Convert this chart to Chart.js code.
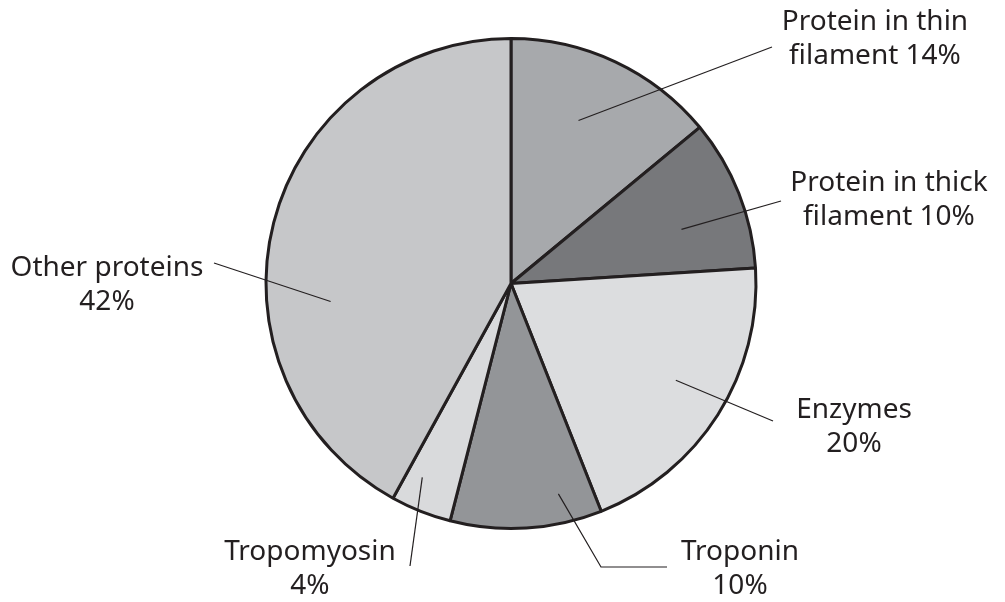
<!DOCTYPE html>
<html>
<head>
<meta charset="utf-8">
<script src="https://cdn.jsdelivr.net/npm/chart.js@4/dist/chart.umd.min.js"></script>
<style>
  html, body { margin: 0; padding: 0; background: #fff; }
  #wrap { width: 1005px; height: 602px; position: relative; }
</style>
</head>
<body>
<div id="wrap"><canvas id="pie"></canvas></div>
<script>
// slices, clockwise from 12 o'clock
const categories = ['Protein in thin filament', 'Protein in thick filament', 'Enzymes', 'Troponin', 'Tropomyosin', 'Other proteins'];
const shares = [14, 10, 20, 10, 4, 42];
const sliceColors = ['#a7a9ac', '#77787b', '#dcdddf', '#939598', '#d9dadc', '#c6c7c9'];

// label text lines (as printed on the figure)
const labelLines = [
    ['Protein in thin', 'filament 14%'],
    ['Protein in thick', 'filament 10%'],
    ['Enzymes', '20%'],
    ['Troponin', '10%'],
    ['Tropomyosin', '4%'],
    ['Other proteins', '42%']
];

// leader line layout: anchor inside slice (angle deg from top, fraction of radius),
// then path points and text centre in page pixels
const leaders = [
    { ang: 22.5, f: 0.72, path: [[772, 47]], text: [875, 22] },
    { ang: 72.4, f: 0.73, path: [[781, 201]], text: [889, 183] },
    { ang: 120.4, f: 0.78, path: [[773, 421]], text: [854, 410] },
    { ang: 167.3, f: 0.88, path: [[601, 567], [667, 567]], text: [740, 552] },
    { ang: 204.6, f: 0.87, path: [[410, 566]], text: [310, 552] },
    { ang: 264.3, f: 0.74, path: [[214, 263]], text: [107, 268] }
];

const leaderPlugin = {
    id: 'leaders',
    afterDraw(chart) {
        const ctx = chart.ctx;
        const arc = chart.getDatasetMeta(0).data[0];
        const cx = arc.x, cy = arc.y, r = arc.outerRadius;
        ctx.save();
        ctx.strokeStyle = '#231f20';
        ctx.lineWidth = 1.2;
        ctx.fillStyle = '#231f20';
        ctx.font = '28px "Noto Sans", "Open Sans", sans-serif';
        ctx.textAlign = 'center';
        ctx.textBaseline = 'middle';
        leaders.forEach((l, i) => {
            const a = (l.ang - 90) * Math.PI / 180;
            ctx.beginPath();
            ctx.moveTo(cx + Math.cos(a) * r * l.f, cy + Math.sin(a) * r * l.f);
            l.path.forEach(p => ctx.lineTo(p[0], p[1]));
            ctx.stroke();
            labelLines[i].forEach((t, j) => {
                ctx.fillText(t, l.text[0], l.text[1] + j * 34);
            });
        });
        ctx.restore();
    }
};

new Chart(document.getElementById('pie'), {
    type: 'pie',
    data: {
        labels: categories,
        datasets: [{
            data: shares,
            backgroundColor: sliceColors,
            borderColor: '#231f20',
            borderWidth: 3,
            borderAlign: 'center'
        }]
    },
    options: {
        responsive: true,
        maintainAspectRatio: false,
        animation: false,
        layout: { padding: { top: 37, bottom: 72, left: 17, right: 0 } },
        plugins: {
            legend: { display: false },
            tooltip: { enabled: false }
        }
    },
    plugins: [leaderPlugin]
});
</script>
</body>
</html>
